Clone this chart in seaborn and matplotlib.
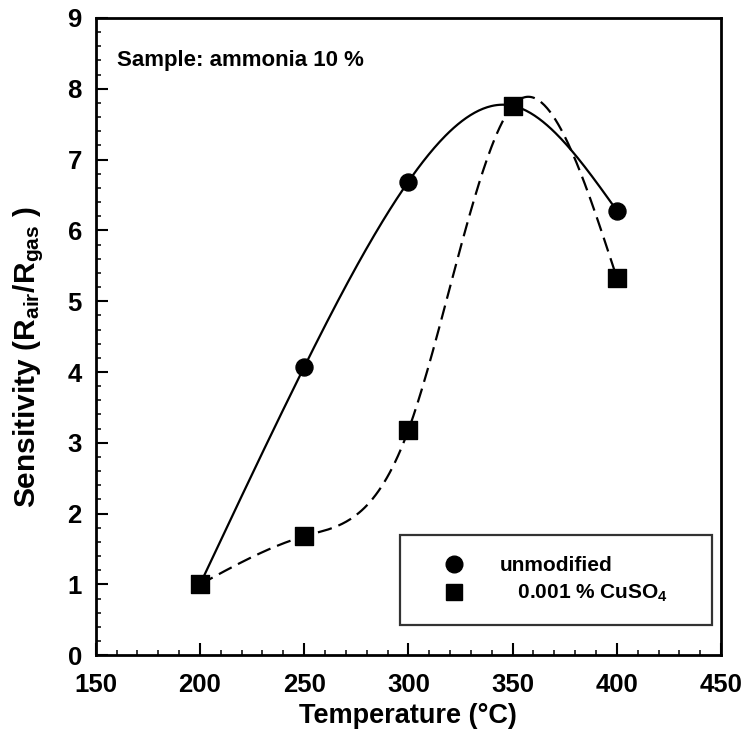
import numpy as np
import pandas as pd
import matplotlib
matplotlib.use("Agg")
import matplotlib.pyplot as plt
from matplotlib.ticker import MultipleLocator
from matplotlib.lines import Line2D
import seaborn as sns

# Measured sensitivity of the sensor film at each operating temperature
temperature = [200, 250, 300, 350, 400]
unmodified = [1.00, 4.07, 6.69, 7.76, 6.28]
cuso4 = [1.00, 1.68, 3.18, 7.76, 5.33]

series_labels = ["unmodified", "   0.001 % CuSO$_4$"]
x_ticks = [150, 200, 250, 300, 350, 400, 450]
y_ticks = list(range(0, 10))


def natural_spline(x, y, num=300):
    """Smooth curve through the points (natural cubic spline)."""
    x = np.asarray(x, float)
    y = np.asarray(y, float)
    n = len(x)
    h = np.diff(x)
    A = np.zeros((n, n))
    r = np.zeros(n)
    A[0, 0] = A[-1, -1] = 1.0
    for i in range(1, n - 1):
        A[i, i - 1] = h[i - 1]
        A[i, i] = 2 * (h[i - 1] + h[i])
        A[i, i + 1] = h[i]
        r[i] = 3 * ((y[i + 1] - y[i]) / h[i] - (y[i] - y[i - 1]) / h[i - 1])
    c = np.linalg.solve(A, r)
    b = (y[1:] - y[:-1]) / h - h * (2 * c[:-1] + c[1:]) / 3
    d = (c[1:] - c[:-1]) / (3 * h)
    xs = np.linspace(x[0], x[-1], num)
    idx = np.clip(np.searchsorted(x, xs, side="right") - 1, 0, n - 2)
    t = xs - x[idx]
    ys = y[idx] + b[idx] * t + c[idx] * t ** 2 + d[idx] * t ** 3
    return xs, ys


sns.set_theme(style="ticks")
plt.rcParams["font.family"] = ["Liberation Sans", "DejaVu Sans"]
plt.rcParams["font.weight"] = "bold"
plt.rcParams["text.color"] = "black"
plt.rcParams["axes.labelcolor"] = "black"
plt.rcParams["mathtext.fontset"] = "custom"
plt.rcParams["mathtext.rm"] = "Liberation Sans:bold"
plt.rcParams["mathtext.it"] = "Liberation Sans:bold"
plt.rcParams["mathtext.bf"] = "Liberation Sans:bold"

fig = plt.figure(figsize=(7.48, 7.48), dpi=100)
ax = fig.add_axes([0.128, 0.124, 0.836, 0.852])

points = pd.DataFrame({
    "T": temperature * 2,
    "S": unmodified + cuso4,
    "sample": ["unmodified"] * len(temperature) + ["cuso4"] * len(temperature),
})

xs1, ys1 = natural_spline(temperature, unmodified)
xs2, ys2 = natural_spline(temperature, cuso4)
curves = pd.DataFrame({
    "T": np.concatenate([xs1, xs2]),
    "S": np.concatenate([ys1, ys2]),
    "sample": ["unmodified"] * len(xs1) + ["cuso4"] * len(xs2),
})

sns.lineplot(data=curves[curves["sample"] == "unmodified"], x="T", y="S",
             color="black", lw=1.6, ax=ax, legend=False, sort=False)
sns.lineplot(data=curves[curves["sample"] == "cuso4"], x="T", y="S",
             color="black", lw=1.6, ax=ax, legend=False, sort=False,
             dashes=False, linestyle=(0, (6.5, 3.2)))
sns.scatterplot(data=points[points["sample"] == "unmodified"], x="T", y="S",
                marker="o", s=150, color="black", edgecolor="black",
                ax=ax, legend=False, zorder=3)
sns.scatterplot(data=points[points["sample"] == "cuso4"], x="T", y="S",
                marker="s", s=150, color="black", edgecolor="black",
                ax=ax, legend=False, zorder=4)

ax.set_xlim(150, 450)
ax.set_ylim(0, 9)
ax.set_xticks(x_ticks)
ax.set_yticks(y_ticks)
ax.xaxis.set_minor_locator(MultipleLocator(10))
ax.yaxis.set_minor_locator(MultipleLocator(0.2))
ax.tick_params(axis="both", which="major", direction="in", length=8.5, width=1.5,
               labelsize=18.5, colors="black")
ax.tick_params(axis="x", which="major", pad=13)
ax.tick_params(axis="y", which="major", pad=10)
ax.tick_params(axis="both", which="minor", direction="in", length=3.8, width=1.3)
ax.tick_params(top=False, right=False, which="both")
for lbl in ax.get_xticklabels() + ax.get_yticklabels():
    lbl.set_fontweight("bold")
for sp in ax.spines.values():
    sp.set_visible(True)
    sp.set_linewidth(2.0)
    sp.set_color("black")

ax.set_xlabel("Temperature (\u00b0C)", fontsize=19.5, fontweight="bold",
              labelpad=4, color="black")
ax.set_ylabel("Sensitivity (R$_{air}$/R$_{gas}$ )", fontsize=21.5,
              fontweight="bold", color="black")
ax.yaxis.set_label_coords(-0.08, 0.468)

ax.text(0.034, 0.934, "Sample: ammonia 10 %", transform=ax.transAxes,
        fontsize=16, fontweight="bold", va="center", ha="left", color="black")

handles = [
    Line2D([], [], marker="o", color="black", ls="none", markersize=12),
    Line2D([], [], marker="s", color="black", ls="none", markersize=11),
]
leg = ax.legend(handles, series_labels, loc="upper left",
                bbox_to_anchor=(0.486, 0.188, 0.499, 0.0), mode="expand",
                borderaxespad=0, frameon=True, fancybox=False, fontsize=15,
                handletextpad=0.6, labelspacing=0.38, borderpad=1.0,
                handlelength=3.2)
leg.get_frame().set_edgecolor("black")
leg.get_frame().set_linewidth(1.6)
for t in leg.get_texts():
    t.set_fontweight("bold")
    t.set_color("black")

fig.savefig("out.png", dpi=100)
